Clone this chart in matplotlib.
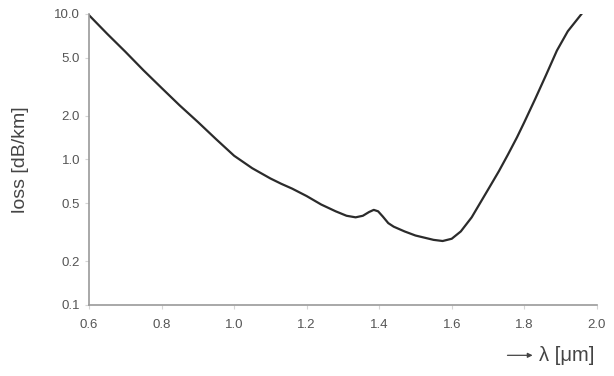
import matplotlib.pyplot as plt
from matplotlib.ticker import FixedLocator, FixedFormatter, NullLocator

plt.rcParams['font.family'] = ['Liberation Sans', 'DejaVu Sans']

wavelength = [0.60, 0.65, 0.70, 0.75, 0.80, 0.85, 0.90, 0.95, 1.00, 1.05,
              1.10, 1.13, 1.16, 1.20, 1.24, 1.28, 1.31, 1.335, 1.355, 1.372,
              1.385, 1.397, 1.41, 1.425, 1.44, 1.47, 1.50, 1.55, 1.575, 1.60,
              1.625, 1.655, 1.68, 1.705, 1.73, 1.755, 1.78, 1.80, 1.83, 1.86,
              1.89, 1.92, 1.958]
loss = [9.8, 7.3, 5.5, 4.1, 3.1, 2.35, 1.81, 1.38, 1.06, 0.87,
        0.74, 0.68, 0.63, 0.56, 0.49, 0.44, 0.41, 0.40, 0.41, 0.435,
        0.45, 0.44, 0.405, 0.365, 0.345, 0.32, 0.30, 0.28, 0.275, 0.285,
        0.32, 0.40, 0.51, 0.65, 0.83, 1.08, 1.42, 1.8, 2.6, 3.8,
        5.6, 7.6, 10.0]

yticks = [0.1, 0.2, 0.5, 1.0, 2.0, 5.0, 10.0]
xticks = [0.6, 0.8, 1.0, 1.2, 1.4, 1.6, 1.8, 2.0]

fig = plt.figure(figsize=(6.14, 3.76), dpi=100)
ax = fig.add_axes([0.145, 0.189, 0.827, 0.774])
ax.plot(wavelength, loss, color='#2b2b2b', lw=1.6, solid_joinstyle='round')

ax.set_yscale('log')
ax.set_xlim(0.6, 2.0)
ax.set_ylim(0.1, 10.0)
ax.yaxis.set_major_locator(FixedLocator(yticks))
ax.yaxis.set_major_formatter(FixedFormatter(['%.1f' % v for v in yticks]))
ax.yaxis.set_minor_locator(NullLocator())
ax.set_xticks(xticks)
ax.set_xticklabels(['%.1f' % v for v in xticks])

for s in ['top', 'right']:
    ax.spines[s].set_visible(False)
for s in ['left', 'bottom']:
    ax.spines[s].set_color('#9a9a9a')
    ax.spines[s].set_linewidth(1.2)
ax.tick_params(colors='#d5d5d5', labelcolor='#555555', labelsize=9.5,
               length=3, width=0.8)
ax.tick_params(axis='x', pad=7)

ax.set_ylabel('loss [dB/km]', fontsize=14, color='#444444')
ax.yaxis.set_label_coords(-0.118, 0.5)

fig.text(0.878, 0.055, '\u03bb [\u03bcm]', fontsize=14.5, color='#444444',
         ha='left', va='center')
ax.annotate('', xy=(0.872, 0.055), xytext=(0.822, 0.055), xycoords='figure fraction',
            arrowprops=dict(arrowstyle='-|>', color='#444444', lw=0.9,
                            mutation_scale=7))

fig.savefig('out.png', dpi=100)
